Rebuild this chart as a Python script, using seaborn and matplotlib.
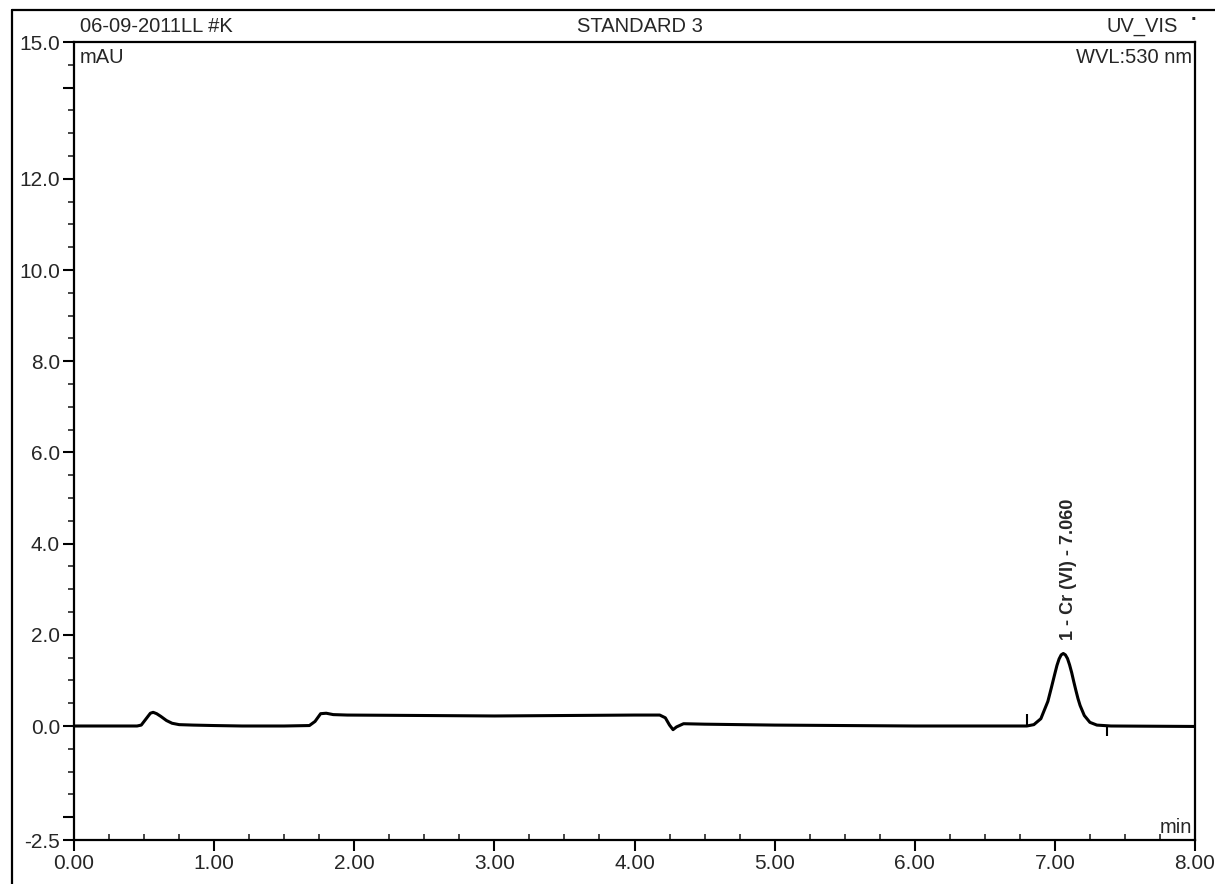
import numpy as np
import seaborn as sns
import matplotlib.pyplot as plt
from matplotlib.lines import Line2D

# Chromatogram trace (retention time in min, signal in mAU)
time_min = [0.00, 0.45, 0.48, 0.52, 0.545, 0.565, 0.59, 0.62, 0.66, 0.70, 0.75, 0.85,
            1.00, 1.20, 1.50, 1.68, 1.72, 1.76, 1.80, 1.85, 1.95, 2.50, 3.00, 3.50,
            4.00, 4.18, 4.22, 4.25, 4.275, 4.30, 4.35, 4.50, 5.00, 6.00, 6.80, 6.85,
            6.90, 6.95, 6.975, 7.00, 7.015, 7.03, 7.045, 7.06, 7.075, 7.09, 7.105,
            7.12, 7.135, 7.15, 7.165, 7.18, 7.21, 7.25, 7.30, 7.40, 8.00]
signal_mau = [0.00, 0.00, 0.02, 0.18, 0.28, 0.30, 0.27, 0.21, 0.12, 0.06, 0.03, 0.02,
              0.01, 0.00, 0.00, 0.01, 0.10, 0.27, 0.28, 0.25, 0.24, 0.23, 0.22, 0.23,
              0.24, 0.24, 0.18, 0.02, -0.08, -0.02, 0.05, 0.04, 0.02, 0.00, 0.00, 0.03,
              0.16, 0.54, 0.84, 1.15, 1.33, 1.47, 1.56, 1.59, 1.56, 1.48, 1.34,
              1.17, 0.97, 0.78, 0.60, 0.45, 0.23, 0.08, 0.02, 0.00, -0.01]

# Peak info
peak_label = "1 - Cr (VI) - 7.060"
peak_label_pos = (7.10, 1.88)
peak_start, peak_start_h = 6.80, 0.27
peak_end, peak_end_h = 7.37, -0.23

# Axis ticks
x_major = [0, 1, 2, 3, 4, 5, 6, 7, 8]
x_labels = ["0.00", "1.00", "2.00", "3.00", "4.00", "5.00", "6.00", "7.00", "8.00"]
y_major = [-2.5, -2.0, 0, 2, 4, 6, 8, 10, 12, 14, 15]
y_labels = ["-2.5", "", "0.0", "2.0", "4.0", "6.0", "8.0", "10.0", "12.0", "", "15.0"]

sns.set_style("ticks")
plt.rcParams['font.family'] = ['Liberation Sans', 'DejaVu Sans']

fig = plt.figure(figsize=(12.15, 8.84), dpi=100)
ax = fig.add_axes([74 / 1215, 1 - 840 / 884, 1121 / 1215, 798 / 884])

sns.lineplot(x=time_min, y=signal_mau, ax=ax, color="black", lw=2.2, sort=False)

# integration delimiters
ax.vlines([peak_start], 0, peak_start_h, color="black", lw=1.5)
ax.vlines([peak_end], peak_end_h, 0, color="black", lw=1.5)

ax.text(peak_label_pos[0], peak_label_pos[1], peak_label, rotation=90,
        ha="center", va="bottom", fontsize=13, fontweight="bold")

ax.set_xlim(0, 8)
ax.set_ylim(-2.5, 15)
ax.set_xticks(x_major)
ax.set_xticklabels(x_labels)
ax.set_xticks(np.arange(0, 8.01, 0.25), minor=True)
ax.set_yticks(y_major)
ax.set_yticklabels(y_labels)
ax.set_yticks(np.arange(-2.5, 15.01, 0.5), minor=True)

ax.tick_params(axis="both", which="major", labelsize=15, width=1.5, length=8,
               color="black", pad=2)
ax.tick_params(axis="x", which="minor", direction="in", length=4, width=1.2)
ax.tick_params(axis="y", which="minor", direction="out", length=4, width=1.2)

for s in ax.spines.values():
    s.set_linewidth(1.6)
    s.set_color("black")

ax.set_xlabel("")
ax.set_ylabel("")

# header texts
hdr = 14.5
ax.text(0.005, 1.008, "06-09-2011LL #K", transform=ax.transAxes, ha="left",
        va="bottom", fontsize=hdr)
ax.text(0.505, 1.008, "STANDARD 3", transform=ax.transAxes, ha="center",
        va="bottom", fontsize=hdr)
ax.text(0.985, 1.008, "UV_VIS", transform=ax.transAxes, ha="right",
        va="bottom", fontsize=hdr)
ax.text(1.002, 1.016, "\u00b7", transform=ax.transAxes, ha="right",
        va="bottom", fontsize=hdr, fontweight="bold")
ax.text(0.005, 0.993, "mAU", transform=ax.transAxes, ha="left", va="top",
        fontsize=hdr)
ax.text(0.997, 0.993, "WVL:530 nm", transform=ax.transAxes, ha="right",
        va="top", fontsize=hdr)
ax.text(0.997, 0.004, "min", transform=ax.transAxes, ha="right", va="bottom",
        fontsize=hdr)

# outer frame of the printout
fig.add_artist(Line2D([12 / 1215, 1.0], [1 - 10 / 884, 1 - 10 / 884],
                      transform=fig.transFigure, color="black", lw=1.6))
fig.add_artist(Line2D([12 / 1215, 12 / 1215], [0, 1 - 10 / 884],
                      transform=fig.transFigure, color="black", lw=1.6))

fig.savefig("out.png", dpi=100)
